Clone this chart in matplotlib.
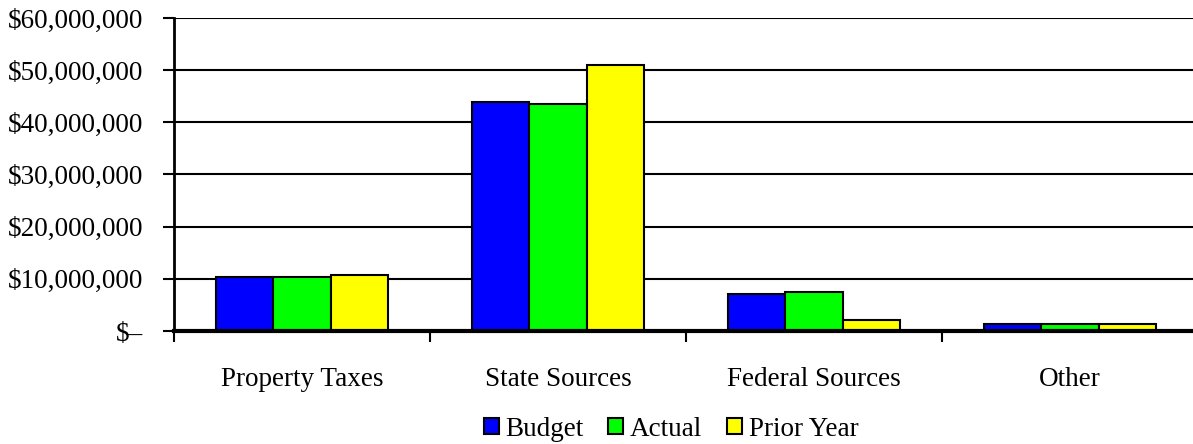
import numpy as np
import matplotlib.pyplot as plt
from matplotlib.ticker import FuncFormatter, FixedLocator

plt.rcParams['font.family'] = ['Liberation Serif', 'DejaVu Serif']

categories = ["Property Taxes", "State Sources", "Federal Sources", "Other"]
budget = [10.4e6, 43.9e6, 7.1e6, 1.4e6]
actual = [10.4e6, 43.5e6, 7.4e6, 1.4e6]
prior_year = [10.8e6, 51.0e6, 2.1e6, 1.4e6]
series_names = ["Budget", "Actual", "Prior Year"]
colors = ["#0000ff", "#00ff00", "#ffff00"]

fig = plt.figure(figsize=(11.93, 4.44), dpi=100)
W, H = 1193, 444
ax = fig.add_axes([174 / W, (H - 331) / H, 1024 / W, 313 / H])

x = np.arange(len(categories))
bw = 0.223
for i, (vals, name, c) in enumerate(zip([budget, actual, prior_year], series_names, colors)):
    ax.bar(x + (i - 1) * bw, vals, bw, color=c, edgecolor="black", linewidth=1.5,
           label=name, zorder=3)

ax.set_xlim(-0.5, len(categories) - 0.5)
ax.set_ylim(0, 60e6)
ax.set_yticks(np.arange(0, 60e6 + 1, 10e6))


def money(v, pos):
    if v == 0:
        return "$\u2013"
    return "${:,.0f}".format(v)


ax.yaxis.set_major_formatter(FuncFormatter(money))
ax.grid(axis="y", color="black", linewidth=1.5, zorder=0)

ax.set_xticks(x)
ax.set_xticklabels(categories)
ax.xaxis.set_minor_locator(FixedLocator(np.arange(-0.5, len(categories), 1.0)))
ax.tick_params(axis="x", which="major", length=0, pad=26, labelsize=19.5)
ax.tick_params(axis="x", which="minor", length=8, width=1.5, direction="out")
ax.tick_params(axis="y", length=8, width=1.5, direction="out", pad=14, labelsize=19.5)

for s in ["top", "right"]:
    ax.spines[s].set_visible(False)
ax.spines["left"].set_linewidth(2)
ax.spines["bottom"].set_linewidth(3)
ax.spines["bottom"].set_zorder(4)

fig.legend(loc="center", bbox_to_anchor=(671 / W, 1 - 429 / H), ncol=3, frameon=False,
           fontsize=19.5, handlelength=0.55, handleheight=0.55, handletextpad=0.26,
           columnspacing=0.9, borderaxespad=0, borderpad=0)

fig.savefig("out.png", dpi=100)
